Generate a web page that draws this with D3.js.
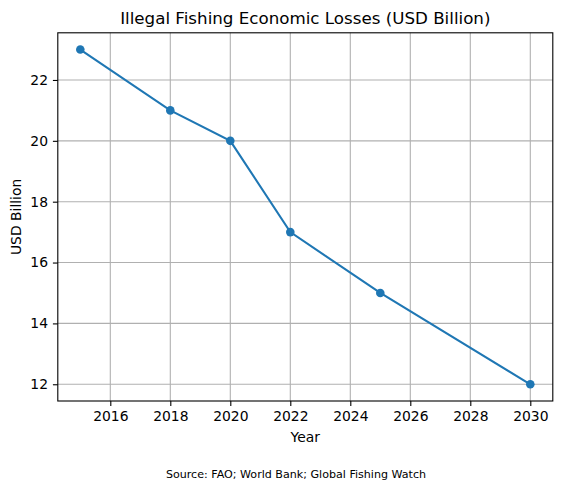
<!DOCTYPE html>
<html>
<head>
<meta charset="utf-8">
<script src="https://cdn.jsdelivr.net/npm/d3@7"></script>
<style>
  body { margin: 0; background: #fff; }
  text { font-family: "DejaVu Sans", sans-serif; fill: #000; }
</style>
</head>
<body>
<svg id="chart" width="563" height="490"></svg>
<script>
// chart data
var years = [2015, 2018, 2020, 2022, 2025, 2030];
var losses = [23, 21, 20, 17, 15, 12];
var xTicks = [2016, 2018, 2020, 2022, 2024, 2026, 2028, 2030];
var yTicks = [12, 14, 16, 18, 20, 22];

var svg = d3.select("#chart");
var plotLeft = 57.8, plotRight = 552.8, plotTop = 32.8, plotBottom = 401;

// scales with matplotlib-like 5% margins
var x = d3.scaleLinear().domain([2014.25, 2030.75]).range([plotLeft, plotRight]);
var y = d3.scaleLinear().domain([11.45, 23.55]).range([plotBottom, plotTop]);

// grid lines
var grid = svg.append("g");
grid.selectAll(".vgrid").data(xTicks).enter().append("line")
    .attr("x1", function(d) { return x(d); })
    .attr("x2", function(d) { return x(d); })
    .attr("y1", plotTop).attr("y2", plotBottom)
    .attr("stroke", "#b0b0b0").attr("stroke-width", 1.1);
grid.selectAll(".hgrid").data(yTicks).enter().append("line")
    .attr("y1", function(d) { return y(d); })
    .attr("y2", function(d) { return y(d); })
    .attr("x1", plotLeft).attr("x2", plotRight)
    .attr("stroke", "#b0b0b0").attr("stroke-width", 1.1);

// axes
var xAxis = d3.axisBottom(x).tickValues(xTicks).tickFormat(d3.format("d"))
    .tickSize(4.9).tickPadding(4.9);
var yAxis = d3.axisLeft(y).tickValues(yTicks).tickFormat(d3.format("d"))
    .tickSize(4.9).tickPadding(4.9);

svg.append("g").attr("transform", "translate(0," + plotBottom + ")").call(xAxis)
    .call(function(g) { g.select(".domain").remove(); })
    .selectAll("text").style("font-size", "13.9px").style("font-family", "DejaVu Sans");
svg.append("g").attr("transform", "translate(" + plotLeft + ",0)").call(yAxis)
    .call(function(g) { g.select(".domain").remove(); })
    .selectAll("text").style("font-size", "13.9px").style("font-family", "DejaVu Sans");
svg.selectAll(".tick line").attr("stroke", "#000").attr("stroke-width", 1.1);

// frame
svg.append("rect")
    .attr("x", plotLeft).attr("y", plotTop)
    .attr("width", plotRight - plotLeft).attr("height", plotBottom - plotTop)
    .attr("fill", "none").attr("stroke", "#000").attr("stroke-width", 1.1);

// line and markers
var line = d3.line()
    .x(function(d, i) { return x(years[i]); })
    .y(function(d) { return y(d); });
svg.append("path").datum(losses)
    .attr("d", line)
    .attr("fill", "none").attr("stroke", "#1f77b4").attr("stroke-width", 2.08);
svg.selectAll(".dot").data(losses).enter().append("circle")
    .attr("cx", function(d, i) { return x(years[i]); })
    .attr("cy", function(d) { return y(d); })
    .attr("r", 4.3).attr("fill", "#1f77b4");

// labels
svg.append("text").attr("x", (plotLeft + plotRight) / 2).attr("y", 24)
    .attr("text-anchor", "middle").style("font-size", "16.7px")
    .text("Illegal Fishing Economic Losses (USD Billion)");
svg.append("text").attr("x", (plotLeft + plotRight) / 2).attr("y", 442)
    .attr("text-anchor", "middle").style("font-size", "13.9px")
    .text("Year");
svg.append("text")
    .attr("transform", "translate(21," + ((plotTop + plotBottom) / 2) + ") rotate(-90)")
    .attr("text-anchor", "middle").style("font-size", "13.9px")
    .text("USD Billion");
svg.append("text").attr("x", 296).attr("y", 478)
    .attr("text-anchor", "middle").style("font-size", "11.1px")
    .text("Source: FAO; World Bank; Global Fishing Watch");
</script>
</body>
</html>
